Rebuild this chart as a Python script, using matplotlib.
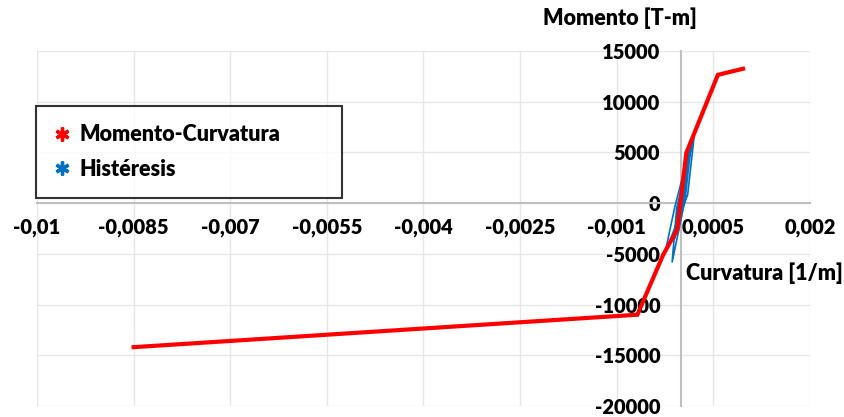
import matplotlib
matplotlib.use("Agg")
import matplotlib.pyplot as plt
from matplotlib.lines import Line2D
from matplotlib.ticker import FixedLocator, FixedFormatter

plt.rcParams["font.family"] = ["Lato", "DejaVu Sans"]
plt.rcParams["font.weight"] = "heavy"
W = "heavy"

# Moment-curvature envelope (curvature 1/m, moment T-m)
mc_curv = [-0.0085, -0.00068, -0.00028, -0.00006, 0.00008, 0.00057, 0.00096]
mc_mom = [-14200, -11000, -5100, -2600, 4950, 12650, 13250]

# Cyclic (hysteresis) response
hys_curv = [0.0, 0.00005, 0.0, -0.00005, -0.00002, 0.0001, 0.00003, -0.0001,
            -0.00004, 0.00015, 0.00006, -0.00014, -0.00007, 0.0002, 0.0001,
            -0.00025, -0.0001, 0.00012]
hys_mom = [0, 1500, 200, -1500, -300, 3500, 200, -3500, -300, 5500, 300,
           -5800, -500, 6500, 800, -4900, -400, 5000]

x_ticks = [-0.01, -0.0085, -0.007, -0.0055, -0.004, -0.0025, -0.001, 0.0005, 0.002]
x_labels = ["-0,01", "-0,0085", "-0,007", "-0,0055", "-0,004", "-0,0025",
            "-0,001", "0,0005", "0,002"]
y_ticks = [-20000, -15000, -10000, -5000, 0, 5000, 10000, 15000]

fig = plt.figure(figsize=(8.45, 4.17), dpi=100)
ax = fig.add_axes([37 / 845, 1 - 406 / 417, 773 / 845, 355 / 417])

ax.plot(hys_curv, hys_mom, color="#0070C0", lw=1.2, zorder=3)
ax.plot(mc_curv, mc_mom, color="#FF0000", lw=3.0, solid_joinstyle="miter",
        zorder=4)

ax.set_xlim(-0.01, 0.002)
ax.set_ylim(-20000, 15000)
ax.xaxis.set_major_locator(FixedLocator(x_ticks))
ax.xaxis.set_major_formatter(FixedFormatter(x_labels))
ax.yaxis.set_major_locator(FixedLocator(y_ticks))
ax.set_yticklabels([str(v) for v in y_ticks])

ax.grid(True, color="#e6e6e6", lw=1.0, zorder=0)
for side in ("top", "right"):
    ax.spines[side].set_visible(False)
ax.spines["left"].set_position(("data", 0))
ax.spines["bottom"].set_position(("data", 0))
for side in ("left", "bottom"):
    ax.spines[side].set_color("#bfbfbf")
    ax.spines[side].set_linewidth(1.5)
    ax.spines[side].set_zorder(2)
ax.tick_params(axis="x", length=0, pad=11, labelsize=14.5)
ax.tick_params(axis="y", length=0, pad=15, labelsize=14.5)
for lbl in ax.get_xticklabels() + ax.get_yticklabels():
    lbl.set_fontweight(W)

fig.text(620 / 845, 1 - 18 / 417, "Momento [T-m]", ha="center", va="center",
         fontsize=15.5, fontweight=W)
fig.text(764 / 845, 1 - 273 / 417, "Curvatura [1/m]", ha="center",
         va="center", fontsize=15.5, fontweight=W)

handles = [
    Line2D([], [], ls="none", marker=(6, 2, 0), color="#FF0000", ms=10, mew=2.4),
    Line2D([], [], ls="none", marker=(6, 2, 0), color="#0070C0", ms=10, mew=2.4),
]
leg = fig.legend(handles, ["Momento-Curvatura", "Histéresis"],
                 loc="upper left", mode="expand",
                 bbox_to_anchor=(36 / 845, 1 - 193 / 417, 306 / 845, 87 / 417),
                 borderaxespad=0, frameon=True, fancybox=False,
                 edgecolor="black", borderpad=0.85, handlelength=0.7,
                 handletextpad=0.45, labelspacing=0.62,
                 prop={"weight": W, "size": 15.5})
leg.get_frame().set_linewidth(1.5)

fig.savefig("out.png", dpi=100)
